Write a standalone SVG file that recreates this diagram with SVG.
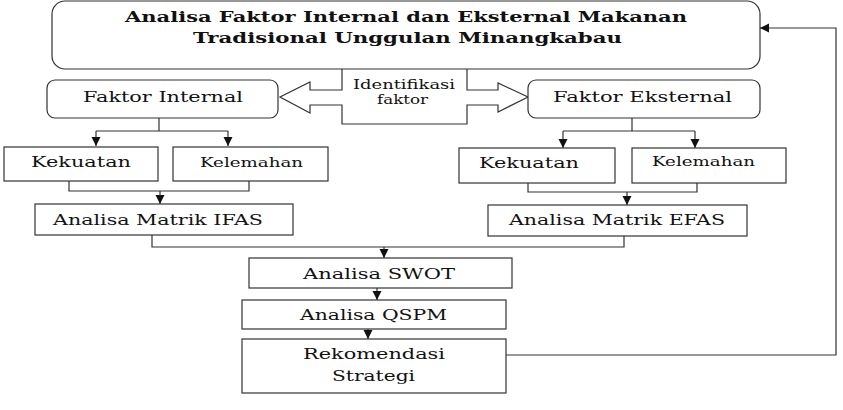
<svg xmlns="http://www.w3.org/2000/svg" width="843" height="410" viewBox="0 0 843 410">
<defs>
<marker id="ah" markerWidth="10" markerHeight="10" refX="9" refY="5" orient="auto" markerUnits="userSpaceOnUse">
<path d="M0,0.5 L9,5 L0,9.5 Z" fill="#111"/>
</marker>
<style>
.box{fill:#fff;stroke:#333;stroke-width:1.2}
.t{font-family:"DejaVu Serif","Liberation Serif",serif;font-size:14px;fill:#111;text-anchor:middle}
.tb{font-family:"DejaVu Serif","Liberation Serif",serif;font-size:15px;font-weight:bold;fill:#111;text-anchor:middle}
.s{font-size:12px}
.c{fill:none;stroke:#333;stroke-width:1.2}
</style>
</defs>
<rect width="843" height="410" fill="#fff"/>
<g id="connectors">
<path class="c" d="M159,118 V131 M96,131 H228"/>
<path class="c" d="M96,131 V146" marker-end="url(#ah)"/>
<path class="c" d="M228,131 V146" marker-end="url(#ah)"/>
<path class="c" d="M69,181 V191 H249 V181"/>
<path class="c" d="M160,191 V204" marker-end="url(#ah)"/>
<path class="c" d="M632,118 V131 M563,131 H695"/>
<path class="c" d="M563,131 V148" marker-end="url(#ah)"/>
<path class="c" d="M695,131 V148" marker-end="url(#ah)"/>
<path class="c" d="M528,183 V192 H697 V183"/>
<path class="c" d="M627,192 V205" marker-end="url(#ah)"/>
<path class="c" d="M152,235 V247 H624 V236"/>
<path class="c" d="M384,247 V258" marker-end="url(#ah)"/>
<path class="c" d="M377,288 V300" marker-end="url(#ah)"/>
<path class="c" d="M368,329 V339" marker-end="url(#ah)"/>
<path class="c" d="M506,355 H836 V28 H760" marker-end="url(#ah)"/>
</g>
<g id="identifikasi">
<path class="box" d="M342,69 V90 H310 V82 L280,97 L310,113 V105 H342 V124 H467 V105 H498 V112 L528,97 L498,83 V90 H467 V69"/>
<text class="t s" x="404" y="89" textLength="102" lengthAdjust="spacingAndGlyphs">Identifikasi</text>
<text class="t s" x="402.5" y="104" textLength="51" lengthAdjust="spacingAndGlyphs">faktor</text>
</g>
<g id="judul">
<rect class="box" x="52" y="1" width="708" height="68" rx="13"/>
<text class="tb" x="406" y="22" textLength="562" lengthAdjust="spacingAndGlyphs">Analisa Faktor Internal dan Eksternal Makanan</text>
<text class="tb" x="407.5" y="43" textLength="429" lengthAdjust="spacingAndGlyphs">Tradisional Unggulan Minangkabau</text>
</g>
<g id="faktor-internal">
<rect class="box" x="47" y="80" width="231" height="38" rx="8"/>
<text class="t" x="163" y="102" textLength="160" lengthAdjust="spacingAndGlyphs">Faktor Internal</text>
</g>
<g id="faktor-eksternal">
<rect class="box" x="528" y="80" width="232" height="38" rx="8"/>
<text class="t" x="642.5" y="102" textLength="179" lengthAdjust="spacingAndGlyphs">Faktor Eksternal</text>
</g>
<g id="kekuatan-internal">
<rect class="box" x="4" y="147" width="154" height="34"/>
<text class="t" x="81" y="167" textLength="100" lengthAdjust="spacingAndGlyphs">Kekuatan</text>
</g>
<g id="kelemahan-internal">
<rect class="box" x="173" y="147" width="155" height="34"/>
<text class="t s" x="251.5" y="167" textLength="103" lengthAdjust="spacingAndGlyphs">Kelemahan</text>
</g>
<g id="kekuatan-eksternal">
<rect class="box" x="459" y="148" width="156" height="35"/>
<text class="t" x="529" y="168" textLength="100" lengthAdjust="spacingAndGlyphs">Kekuatan</text>
</g>
<g id="kelemahan-eksternal">
<rect class="box" x="632" y="148" width="154" height="35"/>
<text class="t s" x="703.5" y="166" textLength="103" lengthAdjust="spacingAndGlyphs">Kelemahan</text>
</g>
<g id="ifas">
<rect class="box" x="35" y="204" width="258" height="31"/>
<text class="t" x="158" y="225" textLength="210" lengthAdjust="spacingAndGlyphs">Analisa Matrik IFAS</text>
</g>
<g id="efas">
<rect class="box" x="488" y="205" width="259" height="31"/>
<text class="t" x="617" y="225" textLength="216" lengthAdjust="spacingAndGlyphs">Analisa Matrik EFAS</text>
</g>
<g id="swot">
<rect class="box" x="249" y="258" width="263" height="30"/>
<text class="t" x="379" y="279" textLength="152" lengthAdjust="spacingAndGlyphs">Analisa SWOT</text>
</g>
<g id="qspm">
<rect class="box" x="242" y="300" width="264" height="29"/>
<text class="t" x="373.5" y="320" textLength="147" lengthAdjust="spacingAndGlyphs">Analisa QSPM</text>
</g>
<g id="rekomendasi">
<rect class="box" x="242" y="339" width="264" height="54"/>
<text class="t" x="374" y="359" textLength="142" lengthAdjust="spacingAndGlyphs">Rekomendasi</text>
<text class="t" x="373.5" y="381" textLength="83" lengthAdjust="spacingAndGlyphs">Strategi</text>
</g>
</svg>
